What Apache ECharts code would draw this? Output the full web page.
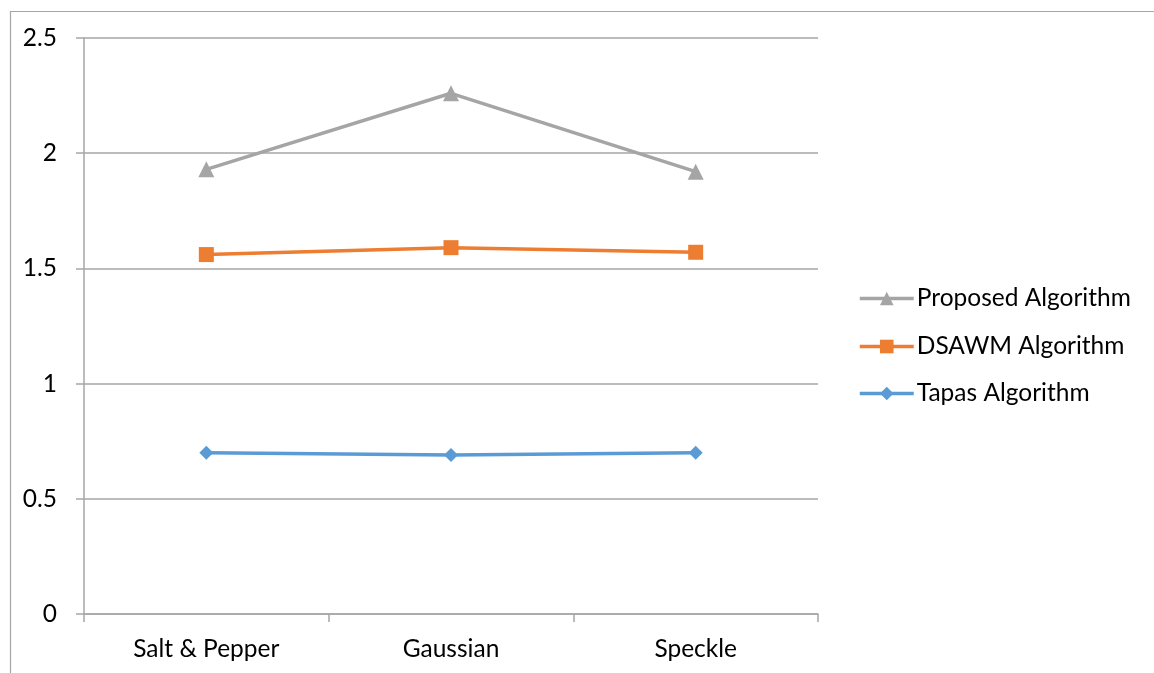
<!DOCTYPE html>
<html>
<head>
<meta charset="utf-8">
<script src="https://cdn.jsdelivr.net/npm/echarts@6/dist/echarts.min.js"></script>
<style>
  html, body { margin: 0; padding: 0; background: #fff; }
  #chart { width: 1154px; height: 673px; }
</style>
</head>
<body>
<div id="chart"></div>
<script>
// Noise types on the x axis
const categories = ['Salt & Pepper', 'Gaussian', 'Speckle'];

// Series values per noise type
const proposedValues = [1.93, 2.26, 1.92];
const dsawmValues = [1.56, 1.59, 1.57];
const tapasValues = [0.70, 0.69, 0.70];

// Series names
const seriesNames = ['Proposed Algorithm', 'DSAWM Algorithm', 'Tapas Algorithm'];

// Value axis range and step
const yMin = 0;
const yMax = 2.5;
const yStep = 0.5;

const FONT = 'Lato, "Open Sans", sans-serif';
const FONT_SIZE = 24.5;
const GRID_COLOR = '#a6a6a6';
const COLORS = ['#a5a5a5', '#ed7d31', '#5b9bd5'];

const chart = echarts.init(document.getElementById('chart'), null, { renderer: 'canvas' });

function lineSeries(name, data, color, symbol, size) {
  return {
    name: name,
    type: 'line',
    data: data,
    symbol: symbol,
    symbolSize: size,
    showAllSymbol: true,
    lineStyle: { color: color, width: 3.5 },
    itemStyle: { color: color, borderWidth: 0 },
    emphasis: { disabled: true },
    animation: false
  };
}

// One legend block per series so each row sits at its own height
const legendRows = [297, 345, 392];
const legends = seriesNames.map(function (name, i) {
  return {
    orient: 'vertical',
    left: 858,
    top: legendRows[i] - 11,
    padding: 0,
    itemWidth: 54,
    itemHeight: 17,
    data: [name],
    lineStyle: { width: 3.5 },
    textStyle: { fontFamily: FONT, fontSize: FONT_SIZE, color: '#000', padding: [0, 0, 0, -2] }
  };
});

chart.setOption({
  animation: false,
  backgroundColor: '#ffffff',
  graphic: [{
    type: 'rect',
    left: 8,
    top: 9,
    shape: { width: 1300, height: 800 },
    style: { fill: 'none', stroke: '#a6a6a6', lineWidth: 1.2 },
    silent: true,
    z: -1
  }],
  grid: { left: 84, right: 336, top: 38, bottom: 59, containLabel: false },
  legend: legends,
  xAxis: {
    type: 'category',
    data: categories,
    boundaryGap: true,
    axisLine: { show: true, lineStyle: { color: GRID_COLOR, width: 1.5 } },
    axisTick: { show: true, length: 8, lineStyle: { color: GRID_COLOR, width: 1.5 } },
    axisLabel: { fontFamily: FONT, fontSize: FONT_SIZE, color: '#000', margin: 23 },
    splitLine: { show: false }
  },
  yAxis: {
    type: 'value',
    min: yMin,
    max: yMax,
    interval: yStep,
    axisLine: { show: true, lineStyle: { color: GRID_COLOR, width: 1.5 } },
    axisTick: { show: true, length: 8, lineStyle: { color: GRID_COLOR, width: 1.5 } },
    axisLabel: { fontFamily: FONT, fontSize: FONT_SIZE, color: '#000', margin: 27 },
    splitLine: { show: true, lineStyle: { color: GRID_COLOR, width: 1.5 } }
  },
  series: [
    lineSeries(seriesNames[0], proposedValues, COLORS[0], 'triangle', 16),
    lineSeries(seriesNames[1], dsawmValues, COLORS[1], 'rect', 15),
    lineSeries(seriesNames[2], tapasValues, COLORS[2], 'diamond', 14)
  ]
});
</script>
</body>
</html>
